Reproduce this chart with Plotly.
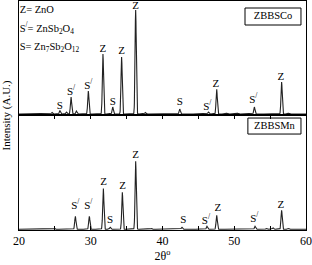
import numpy as np
import plotly.graph_objects as go
from plotly.subplots import make_subplots

# Peak lists (2theta, height in arbitrary units)
co_pos = [24.6, 25.7, 26.6, 27.25, 28.0, 29.66, 31.7, 33.06, 34.3, 36.26, 37.6, 42.4, 46.4, 47.55, 49.0, 50.5, 52.8, 56.6, 57.6]
co_h   = [1.5, 3.5, 2.0, 17.0, 3.0, 23.0, 60.0, 7.0, 57.0, 104.0, 1.5, 5.0, 2.0, 25.0, 1.0, 1.0, 7.0, 32.0, 1.0]
mn_pos = [25.0, 27.85, 29.8, 31.75, 32.7, 34.4, 36.26, 38.5, 42.7, 46.2, 47.55, 52.9, 54.5, 55.4, 56.6, 57.6]
mn_h   = [0.8, 13.0, 13.0, 41.0, 2.0, 37.0, 68.0, 0.8, 2.0, 3.0, 14.0, 3.0, 1.0, 1.5, 19.0, 0.8]
peak_sigma = 0.085

co_lab_text = ["Z", "Z", "Z", "S<sup>/</sup>", "S<sup>/</sup>", "S", "S", "S", "S<sup>/</sup>", "Z", "S<sup>/</sup>", "Z"]
co_lab_x = [36.26, 34.3, 31.7, 29.66, 27.25, 25.7, 33.06, 42.4, 46.24, 47.45, 52.65, 56.5]
co_lab_y = [107.5, 63, 65, 28, 22, 8, 12, 12, 7, 30, 14, 37]
mn_lab_text = ["Z", "Z", "Z", "S<sup>/</sup>", "S<sup>/</sup>", "S", "S", "S<sup>/</sup>", "Z", "S<sup>/</sup>", "Z"]
mn_lab_x = [36.26, 34.45, 31.8, 29.66, 27.85, 32.7, 42.9, 46.06, 47.7, 52.8, 56.5]
mn_lab_y = [74, 43, 47, 23, 23, 9, 9, 8, 21, 10, 24]

key_text = ["Z= ZnO", "S<sup>/</sup>= ZnSb<sub>2</sub>O<sub>4</sub>",
            "S= Zn<sub>7</sub>Sb<sub>2</sub>O<sub>12</sub>"]
key_y = [104, 85, 67]
sample_names = ["ZBBSCo", "ZBBSMn"]

tick_vals = [20, 25, 30, 35, 40, 45, 50, 55, 60]
tick_text = ["20", "", "30", "", "40", "", "50", "", "60"]

x = np.linspace(20, 60, 2001)

def profile(pos, h):
    y = np.zeros_like(x)
    for p, hh in zip(pos, h):
        y += hh * np.exp(-0.5 * ((x - p) / peak_sigma) ** 2)
    return y

FONT = "Liberation Serif, Times New Roman, serif"
TF = dict(family=FONT, size=11, color="black")
fig = make_subplots(rows=2, cols=1, shared_xaxes=True, vertical_spacing=0)
fig.add_trace(go.Scatter(x=x, y=profile(co_pos, co_h), mode="lines",
                         line=dict(color="#222222", width=1.1)), row=1, col=1)
fig.add_trace(go.Scatter(x=x, y=profile(mn_pos, mn_h), mode="lines",
                         line=dict(color="#222222", width=1.1)), row=2, col=1)
fig.add_trace(go.Scatter(x=co_lab_x, y=co_lab_y, mode="text", text=co_lab_text, cliponaxis=False,
                         textposition="middle center", textfont=TF), row=1, col=1)
fig.add_trace(go.Scatter(x=mn_lab_x, y=mn_lab_y, mode="text", text=mn_lab_text, cliponaxis=False,
                         textposition="middle center", textfont=TF), row=2, col=1)
fig.add_trace(go.Scatter(x=[20.1] * 3, y=key_y, mode="text", text=key_text, cliponaxis=False,
                         textposition="middle right",
                         textfont=dict(family=FONT, size=10.5, color="black")), row=1, col=1)

# boxed sample names
fig.add_shape(type="rect", x0=51.5, x1=59.3, y0=89, y1=106, xref="x", yref="y",
              line=dict(color="black", width=1), fillcolor="white", layer="below")
fig.add_shape(type="rect", x0=51.9, x1=59.3, y0=95.3, y1=111.3, xref="x2", yref="y2",
              line=dict(color="black", width=1), fillcolor="white", layer="below")
fig.add_trace(go.Scatter(x=[55.4], y=[97.5], mode="text", text=[sample_names[0]], cliponaxis=False,
                         textposition="middle center",
                         textfont=dict(family=FONT, size=10.5, color="black")), row=1, col=1)
fig.add_trace(go.Scatter(x=[55.6], y=[103.3], mode="text", text=[sample_names[1]], cliponaxis=False,
                         textposition="middle center",
                         textfont=dict(family=FONT, size=10.5, color="black")), row=2, col=1)

fig.update_layout(width=312, height=265, margin=dict(l=19, r=6, t=1, b=35),
                  plot_bgcolor="white", paper_bgcolor="white", showlegend=False,
                  annotations=[dict(x=-0.042, y=0.5, xref="paper", yref="paper",
                                    text="Intensity (A.U.)", textangle=-90, showarrow=False,
                                    xanchor="center", yanchor="middle",
                                    font=dict(family=FONT, size=11, color="black"))])
fig.update_xaxes(range=[20, 60], showgrid=False, zeroline=False, showline=True,
                 linecolor="black", linewidth=1)
fig.update_xaxes(row=1, col=1, mirror=True, ticks="", showticklabels=False)
fig.update_xaxes(row=2, col=1, mirror="ticks", ticks="inside", ticklen=4, tickcolor="black",
                 tickvals=tick_vals, ticktext=tick_text,
                 tickfont=dict(family=FONT, size=12, color="black"),
                 title=dict(text="2θ<sup>o</sup>", standoff=4,
                            font=dict(family=FONT, size=12, color="black")))
fig.update_yaxes(showgrid=False, zeroline=False, showticklabels=False, ticks="",
                 showline=True, linecolor="black", linewidth=1, mirror=True)
fig.update_yaxes(row=1, col=1, range=[-1, 113])
fig.update_yaxes(row=2, col=1, range=[-0.7, 114.3])
fig.layout.yaxis.domain = [0.502, 1]
fig.layout.yaxis2.domain = [0, 0.502]

fig.write_html("out.html")
